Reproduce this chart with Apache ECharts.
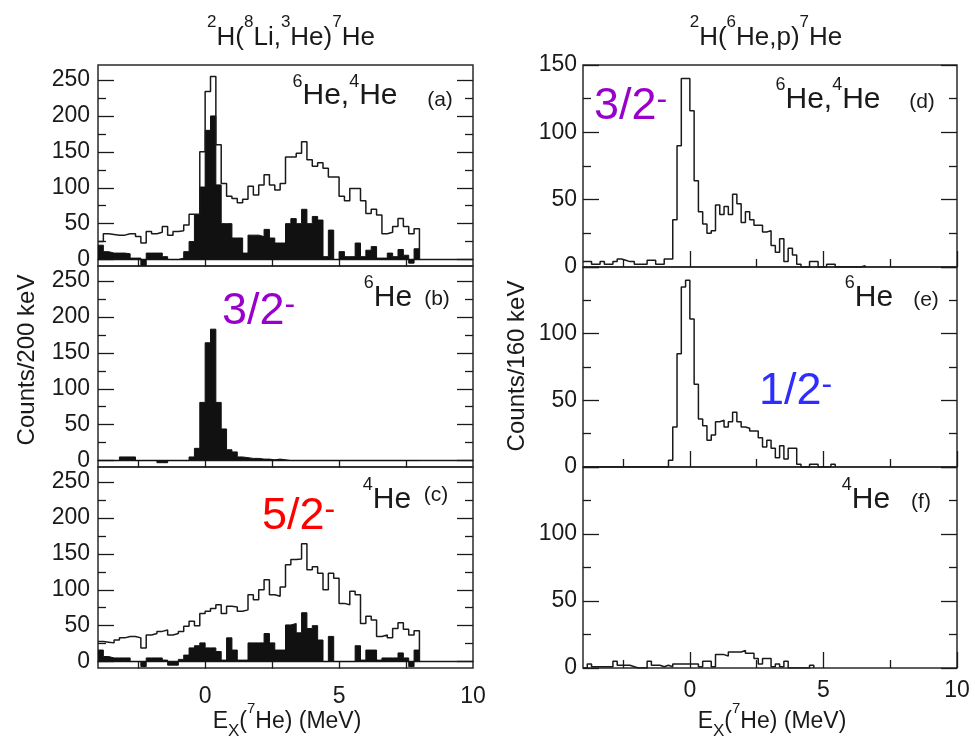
<!DOCTYPE html>
<html><head><meta charset="utf-8">
<script src="https://cdn.jsdelivr.net/npm/echarts@6/dist/echarts.min.js"></script>
<style>html,body{margin:0;padding:0;background:#fff}#c{width:975px;height:739px}</style>
</head><body><div id="c"></div>
<script>
// ---------- data ----------
// left panels: 200 keV bins starting at -4.0 MeV
const leftStart = -4.0;
const leftBin = 0.2;
// right panels: 160 keV bins starting at -4.0 MeV
const rightStart = -4.0;
const rightBin = 0.16;

const aOpen = [25,36,35,34,34,36,36,32,23,39, 36,38,46,34,39,40,48,63,63,150,
  234,255,160,106,88,85,79,84,102,90, 104,118,104,97,106,143,143,148,164,139,
  130,135,127,115,115,88,82,99,99,82, 64,70,62,36,38,46,57,46,36,43];
const aFilled = [20,11,9,9,9,8,2,2,-8,9, 9,9,4,0,0,2,11,25,62,101,
  180,200,104,50,50,30,30,9,34,34, 32,42,30,23,23,50,57,50,70,50,
  60,55,4,41,0,11,4,4,23,4, 13,18,2,2,9,4,14,6,-5,15];
const bFilled = [0,0,0,0,5,5,5,0,0,0, 0,-3,-3,0,0,0,0,5,17,81,
  164,183,81,44,15,12,5,4,3,3, 2,2,1,2,1,0,0,0,0,0,
  0,0,0,0,0,0,0,0,0,0, 0,0,0,0,0,0,0,0,0,0];
const cOpen = [28,27,26,30,33,35,35,33,19,37, 39,42,44,37,39,42,49,56,50,67,
  70,74,79,67,77,76,70,72,93,86, 100,114,93,91,104,135,142,143,164,128,
  132,123,100,123,116,81,79,98,93,53, 63,58,35,37,33,46,54,45,37,43];
const cFilled = [16,7,5,5,5,5,0,0,-7,5, 5,5,2,-5,-5,3,9,19,22,26,
  19,19,14,2,33,16,2,2,26,26, 26,39,26,16,16,51,53,40,68,46,
  50,30,0,35,0,0,0,0,22,2, 16,16,2,5,5,5,12,5,-7,16];

const dOpen = [4,4,2,2,4,2,2,4,6,5, 4,4,2,2,2,5,5,2,2,6,
  6,35,90,140,140,116,64,41,32,25, 27,46,39,45,39,54,47,33,41,35,
  31,31,26,27,16,11,21,4,14,9, 2,0,0,4,4,0,0,2,2,0, 0,0,0,0,0,1];
const eOpen = [0,0,0,0,0,0,0,0,0,0, 0,0,0,0,0,0,0,0,0,0,
  5,30,85,135,140,111,62,36,31,20, 24,34,35,30,34,41,34,30,29,27,
  27,22,15,20,14,7,16,6,14,14, 2,0,0,2,2,0,0,0,2];
const fOpen = [0,3,1,1,1,1,1,5,2,2, 2,1,0,0,0,5,2,2,1,2,
  1,3,3,3,3,3,3,1,5,5, 1,10,10,9,12,12,12,13,11,11,
  7,3,7,7,1,3,1,5,0,0, 0,0,0,2];

const xTickLabels = [0, 5, 10];
const leftYLabels = [0, 50, 100, 150, 200, 250];
const leftYMinor = [25, 75, 125, 175, 225];
const rightYLabelsTop = [0, 50, 100, 150];
const rightYLabels = [0, 50, 100];
const rightYMajor = [0, 50, 100, 150];
const rightYMinor = [25, 75, 125];

// ---------- chart ----------
const FONT = '"Liberation Sans", Arial, Helvetica, sans-serif';
const INK = '#1a1a1a';

function hist(vals, start, width) {
  const pts = vals.map((v, i) => [start + i * width, v]);
  const end = start + vals.length * width;
  pts.push([end, vals[vals.length - 1]]);
  pts.push([end, 0]);
  return pts;
}

const panels = [
  {grid:{left:98, top:65, width:375, height:201}, side:'L', open:aOpen, filled:aFilled, bottom:false},
  {grid:{left:98, top:266, width:375, height:201}, side:'L', open:null, filled:bFilled, bottom:false},
  {grid:{left:98, top:467, width:375, height:201}, side:'L', open:cOpen, filled:cFilled, bottom:true},
  {grid:{left:583, top:65, width:374, height:202}, side:'R', open:dOpen, yLabels:rightYLabelsTop, bottom:false},
  {grid:{left:583, top:267, width:374, height:200}, side:'R', open:eOpen, yLabels:rightYLabels, bottom:false},
  {grid:{left:583, top:467, width:374, height:201}, side:'R', open:fOpen, yLabels:rightYLabels, bottom:true},
];

const grid = [], xAxis = [], yAxis = [], series = [];
const tickStyle = {color: INK, width: 1.3};
const labelStyle = {fontSize: 23, color: INK, fontFamily: FONT};

panels.forEach((p, g) => {
  grid.push(Object.assign({show:true, borderColor:'#2a2a2a', borderWidth:1.5, backgroundColor:'transparent', containLabel:false}, p.grid));
  const isL = p.side === 'L';
  const yMin = isL ? -9 : 0, yMax = isL ? 271 : 150;
  const major = isL ? leftYLabels : rightYMajor;
  const minor = isL ? leftYMinor : rightYMinor;
  const labels = isL ? leftYLabels : p.yLabels;
  const yMain = yAxis.length;
  const base = {gridIndex:g, type:'value', min:yMin, max:yMax, splitLine:{show:false}};
  yAxis.push(Object.assign({}, base, {position:'left',
    axisLine:{show:false, onZero:false},
    axisTick:{show:true, inside:true, length:16, customValues:major, lineStyle:tickStyle},
    axisLabel:Object.assign({show:true, customValues:labels, margin:isL ? 8 : 6}, labelStyle)}));
  yAxis.push(Object.assign({}, base, {position:'left',
    axisLine:{show:false, onZero:false},
    axisTick:{show:true, inside:true, length:8, customValues:minor, lineStyle:tickStyle},
    axisLabel:{show:false}}));
  yAxis.push(Object.assign({}, base, {position:'right',
    axisLine:{show:false, onZero:false},
    axisTick:{show:true, inside:true, length:16, customValues:major, lineStyle:tickStyle},
    axisLabel:{show:false}}));
  yAxis.push(Object.assign({}, base, {position:'right',
    axisLine:{show:false, onZero:false},
    axisTick:{show:true, inside:true, length:8, customValues:minor, lineStyle:tickStyle},
    axisLabel:{show:false}}));

  const xMain = xAxis.length;
  if (isL) {
    xAxis.push({gridIndex:g, type:'value', min:-4, max:10, position:'bottom', splitLine:{show:false},
      axisLine:{show:true, onZero:true, onZeroAxisIndex:yMain, lineStyle:{color:INK, width:1.3}},
      axisTick:{show:true, inside:false, length:7, customValues:[-2.5,0,2.5,5,7.5], lineStyle:tickStyle},
      axisLabel:Object.assign({show:p.bottom, customValues:xTickLabels, margin:17}, labelStyle)});
  } else {
    xAxis.push({gridIndex:g, type:'value', min:-4, max:10, position:'bottom', splitLine:{show:false},
      axisLine:{show:false, onZero:false},
      axisTick:{show:true, inside:true, length:16, customValues:[0,5,10], lineStyle:tickStyle},
      axisLabel:Object.assign({show:p.bottom, customValues:xTickLabels, margin:11}, labelStyle)});
    xAxis.push({gridIndex:g, type:'value', min:-4, max:10, position:'bottom', splitLine:{show:false},
      axisLine:{show:false, onZero:false},
      axisTick:{show:true, inside:true, length:8, customValues:[-2.5,2.5,7.5], lineStyle:tickStyle},
      axisLabel:{show:false}});
  }

  const start = isL ? leftStart : rightStart;
  const width = isL ? leftBin : rightBin;
  if (p.filled) {
    series.push({type:'line', step:'end', xAxisIndex:xMain, yAxisIndex:yMain, symbol:'none', silent:true,
      data:hist(p.filled, start, width),
      lineStyle:{color:'#111', width:1},
      areaStyle:{color:'#111', opacity:1}});
  }
  if (p.open) {
    series.push({type:'line', step:'end', xAxisIndex:xMain, yAxisIndex:yMain, symbol:'none', silent:true,
      data:hist(p.open, start, width),
      lineStyle:{color:INK, width:1.5}});
  }
});

// plain text
function T(x, y, text, size, color, align, extra) {
  return Object.assign({type:'text', x:x, y:y, silent:true, style:{
    text:text, font:size + 'px ' + FONT, fill:color || INK,
    align:align || 'center', verticalAlign:'middle',
    textAlign:align || 'center', textVerticalAlign:'middle'}}, extra || {});
}
// rich text with superscripts: '^d' marks a superscript character; B = baseline y
function RT(x, B, spec, N, S, Pn, color, align) {
  color = color || INK;
  let parts = '', buf = '';
  for (let i = 0; i < spec.length; i++) {
    if (spec[i] === '^') {
      if (buf) { parts += '{n|' + buf + '}'; buf = ''; }
      parts += '{s|' + spec[i + 1] + '}'; i++;
    } else buf += spec[i];
  }
  if (buf) parts += '{n|' + buf + '}';
  const y = B - Pn - 0.858 * N;
  return {type:'text', x:x, y:y, silent:true, style:{
    text:parts, fill:color, font:N + 'px ' + FONT,
    align:align || 'center', verticalAlign:'top', textAlign:align || 'center', textVerticalAlign:'top',
    rich:{
      n:{fontSize:N, fontFamily:FONT, fill:color, color:color, lineHeight:N, verticalAlign:'top', padding:[Pn,0,0,0]},
      s:{fontSize:S, fontFamily:FONT, fill:color, color:color, lineHeight:S, verticalAlign:'top'}
    }}};
}
// spin label "3/2^-" : B = baseline y of digits
function SPIN(x, B, txt, color) {
  const N = 45;
  const y = B - 0.858 * N;
  return {type:'text', x:x, y:y, silent:true, style:{
    text:'{n|' + txt + '}{m|-}', fill:color, font:N + 'px ' + FONT,
    align:'left', verticalAlign:'top', textAlign:'left', textVerticalAlign:'top',
    rich:{
      n:{fontSize:N, fontFamily:FONT, fill:color, color:color, lineHeight:N, verticalAlign:'top'},
      m:{fontSize:32, fontFamily:FONT, fill:color, color:color, lineHeight:32, verticalAlign:'top'}
    }}};
}
// x-axis title with subscript X and superscript 7; B = baseline
function XT(x, B) {
  const N = 23, Pn = 9;
  const y = B - Pn - 0.858 * N;
  const Px = (B + 7) - y - 0.858 * 17;
  return {type:'text', x:x, y:y, silent:true, style:{
    text:'{n|E}{x|X}{n|(}{s|7}{n|He) (MeV)}', fill:INK, font:N + 'px ' + FONT,
    align:'center', verticalAlign:'top', textAlign:'center', textVerticalAlign:'top',
    rich:{
      n:{fontSize:N, fontFamily:FONT, fill:INK, lineHeight:N, verticalAlign:'top', padding:[Pn,0,0,0]},
      s:{fontSize:15, fontFamily:FONT, fill:INK, lineHeight:15, verticalAlign:'top'},
      x:{fontSize:17, fontFamily:FONT, fill:INK, lineHeight:17, verticalAlign:'top', padding:[Px,0,0,0]}
    }}};
}

const graphic = [
  RT(291, 46.7, '^2H(^8Li,^3He)^7He', 26, 17, 11),
  RT(766, 46.7, '^2H(^6He,p)^7He', 26, 17, 11),
  RT(345, 106.7, '^6He,^4He', 30, 18, 8), T(440, 100, '(a)', 21),
  RT(388, 308, '^6He', 30, 18, 8), T(437, 299, '(b)', 21),
  RT(387, 510, '^4He', 30, 18, 8), T(436, 495, '(c)', 21),
  RT(828, 110, '^6He,^4He', 30, 18, 8), T(922, 102, '(d)', 21),
  RT(869, 308, '^6He', 30, 18, 8), T(926, 300, '(e)', 21),
  RT(866, 510, '^4He', 30, 18, 8), T(921, 502, '(f)', 21),
  SPIN(222, 328, '3/2', '#9900cc'),
  SPIN(262, 533, '5/2', '#ff0000'),
  SPIN(594, 123, '3/2', '#9900cc'),
  SPIN(759, 408, '1/2', '#2d2dff'),
  T(27, 360, 'Counts/200 keV', 24, INK, 'center', {rotation:Math.PI/2}),
  T(517, 366, 'Counts/160 keV', 24, INK, 'center', {rotation:Math.PI/2}),
  XT(287, 730), XT(772, 730)
];

const chart = echarts.init(document.getElementById('c'), null, {renderer:'canvas', width:975, height:739});
chart.setOption({animation:false, backgroundColor:'#fff', grid, xAxis, yAxis, series, graphic});
</script>
</body></html>
